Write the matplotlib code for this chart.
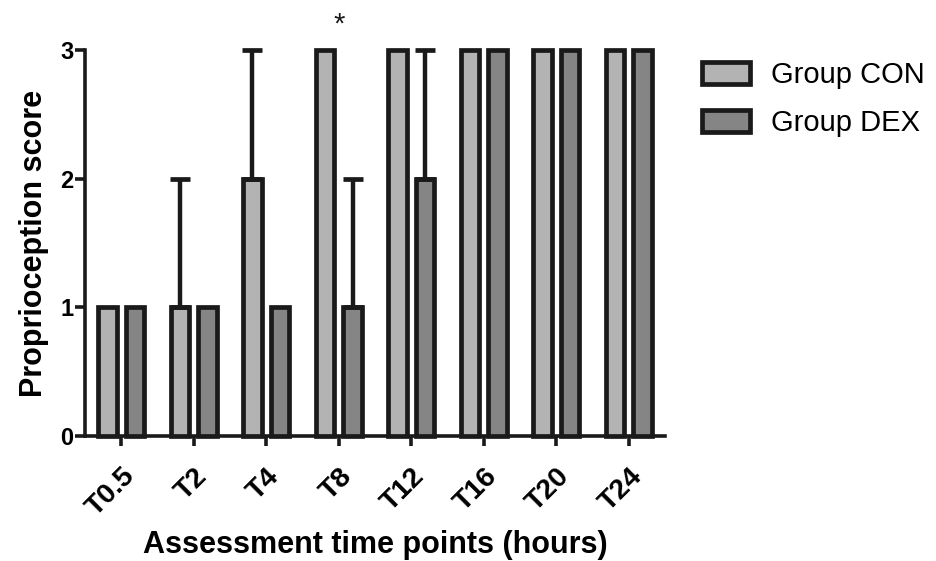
import matplotlib
matplotlib.use("Agg")
import matplotlib.pyplot as plt
import matplotlib.transforms as mtransforms
import numpy as np

plt.rcParams['font.family'] = ['Liberation Sans', 'DejaVu Sans']

categories = ["T0.5", "T2", "T4", "T8", "T12", "T16", "T20", "T24"]
con_values = [1, 1, 2, 3, 3, 3, 3, 3]
dex_values = [1, 1, 1, 1, 2, 3, 3, 3]
con_err_up = [0, 1, 1, 0, 0, 0, 0, 0]
dex_err_up = [0, 0, 0, 1, 1, 0, 0, 0]
y_ticks = [0, 1, 2, 3]
sig_marks = {"T8": "*"}

con_color = "#b3b3b3"
dex_color = "#858585"
edge = "#1a1a1a"

fig = plt.figure(figsize=(9.36, 5.61), dpi=100)
ax = fig.add_axes([85/936, 1-436/561, (665-85)/936, (436-50)/561])

x = np.arange(len(categories))
w = 0.255
off = 0.19
lw = 3.4

b1 = ax.bar(x - off, con_values, w, color=con_color, edgecolor=edge, linewidth=lw,
            label="Group CON", clip_on=False, zorder=3)
b2 = ax.bar(x + off, dex_values, w, color=dex_color, edgecolor=edge, linewidth=lw,
            label="Group DEX", clip_on=False, zorder=3)

for xs, vals, errs in [(x - off, con_values, con_err_up), (x + off, dex_values, dex_err_up)]:
    for xi, v, e in zip(xs, vals, errs):
        if e > 0:
            eb = ax.errorbar(xi, v, yerr=[[0], [e]], fmt='none', ecolor=edge,
                             elinewidth=3.2, capsize=7, capthick=3.4, zorder=4)
            for art in eb.get_children():
                art.set_clip_on(False)

for cat, mark in sig_marks.items():
    i = categories.index(cat)
    ax.text(i, 3.2, mark, ha='center', va='center', fontsize=21, color=edge)

ax.set_xlim(-0.5, 7.5)
ax.set_ylim(0, 3)
ax.set_yticks(y_ticks)
ax.set_yticklabels([str(t) for t in y_ticks], fontsize=17, fontweight='bold')
ax.set_xticks(x)
ax.set_xticklabels(categories, rotation=45, ha='right', rotation_mode='anchor',
                   fontsize=20.5, fontweight='bold')
shift = mtransforms.ScaledTranslation(-5/100, 0, fig.dpi_scale_trans)
for lbl in ax.get_xticklabels():
    lbl.set_transform(lbl.get_transform() + shift)

for s in ['top', 'right']:
    ax.spines[s].set_visible(False)
for s in ['left', 'bottom']:
    ax.spines[s].set_linewidth(2.6)
    ax.spines[s].set_color(edge)
ax.tick_params(axis='both', width=2.6, length=7.5, color=edge, direction='out')
ax.tick_params(axis='y', pad=1)
ax.tick_params(axis='x', pad=12)

ax.set_ylabel("Proprioception score", fontsize=22, fontweight='bold', labelpad=8)
ax.set_xlabel("Assessment time points (hours)", fontsize=22, fontweight='bold', labelpad=6)

leg = fig.legend(handles=[b1, b2], labels=["Group CON", "Group DEX"],
                 loc='upper left', bbox_to_anchor=(702/936, 1-61/561),
                 frameon=False, fontsize=21, handlelength=1.65, handleheight=0.76,
                 handletextpad=0.7, labelspacing=0.7, borderpad=0, borderaxespad=0)

fig.savefig("out.png", dpi=100)
